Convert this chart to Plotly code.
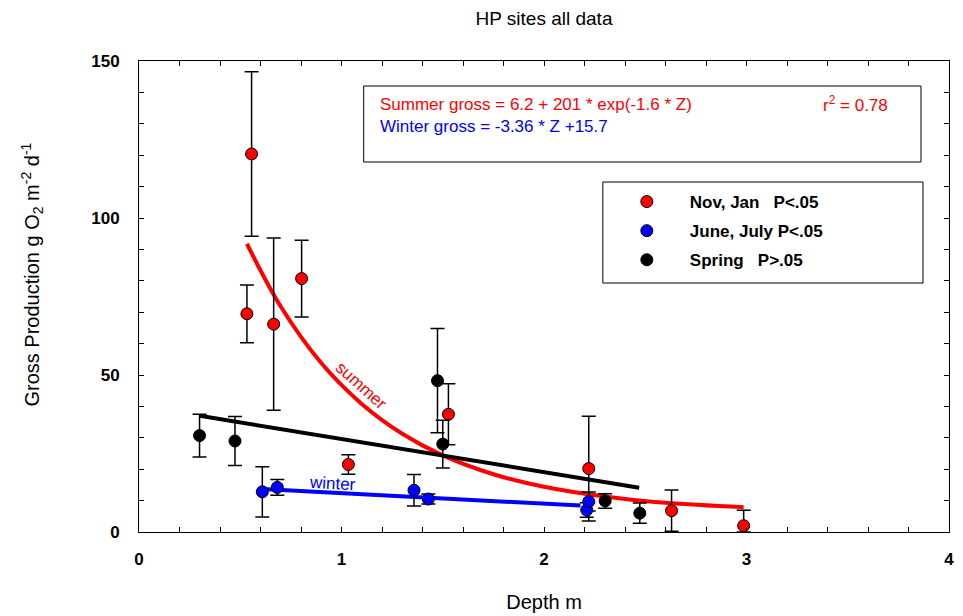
import plotly.graph_objects as go

FONT = "Liberation Sans, Arial, Helvetica, sans-serif"

# Nov, Jan (summer)
red_x = [0.533, 0.556, 0.665, 0.803, 1.034, 1.528, 2.221, 2.630, 2.986]
red_y = [69.5, 120.4, 66.2, 80.7, 21.5, 37.5, 20.2, 6.8, 2.0]
red_err_plus = [9.2, 26.2, 27.4, 12.2, 3.1, 9.7, 16.7, 6.6, 4.9]
red_err_minus = [9.2, 26.2, 27.4, 12.2, 3.1, 9.7, 16.7, 6.6, 2.0]

# June, July (winter)
blue_x = [0.609, 0.683, 1.358, 1.429, 2.211, 2.221]
blue_y = [12.8, 14.2, 13.3, 10.5, 7.0, 9.7]
blue_err = [8.0, 2.5, 5.0, 1.6, 2.3, 3.0]

# Spring
black_x = [0.299, 0.474, 1.474, 1.500, 2.302, 2.473]
black_y = [30.7, 29.0, 48.2, 28.0, 9.9, 6.0]
black_err = [6.8, 7.8, 16.6, 7.6, 2.3, 3.2]

# ---- fitted lines as drawn in the reference ----
summer_fit_x = [0.533, 0.7, 0.9, 1.1, 1.3, 1.5, 1.75, 2.0, 2.3, 2.6, 2.986]
summer_fit_y = [91.8, 71.8, 53.8, 40.8, 31.3, 24.4, 18.4, 14.4, 11.3, 9.3, 7.9]
winter_fit_x = [0.61, 2.18]
winter_fit_y = [13.7, 8.4]
spring_fit_x = [0.30, 2.47]
spring_fit_y = [37.0, 14.1]

legend_names = ["Nov, Jan\u00a0\u00a0\u00a0P<.05", "June, July\u00a0P<.05", "Spring\u00a0\u00a0\u00a0P>.05"]
x_ticks = [0, 1, 2, 3, 4]
y_ticks = [0, 50, 100, 150]

fig = go.Figure()

# fit lines
fig.add_trace(go.Scatter(x=summer_fit_x, y=summer_fit_y, mode="lines", line=dict(color="#ff0000", width=4, shape="spline"),
                         showlegend=False, hoverinfo="skip"))
fig.add_trace(go.Scatter(x=spring_fit_x, y=spring_fit_y, mode="lines", line=dict(color="#000000", width=4),
                         showlegend=False, hoverinfo="skip"))
fig.add_trace(go.Scatter(x=winter_fit_x, y=winter_fit_y, mode="lines", line=dict(color="#0000ff", width=4),
                         showlegend=False, hoverinfo="skip"))

err_style = dict(type="data", color="black", thickness=1.5, width=7, visible=True)

fig.add_trace(go.Scatter(x=red_x, y=red_y, mode="markers", name=legend_names[0], legendgroup="a",
                         marker=dict(color="#ff0000", size=12, line=dict(color="black", width=1)),
                         error_y=dict(array=red_err_plus, arrayminus=red_err_minus, symmetric=False, **err_style),
                         cliponaxis=False))
fig.add_trace(go.Scatter(x=blue_x, y=blue_y, mode="markers", name=legend_names[1], legendgroup="b",
                         marker=dict(color="#0000ff", size=12, line=dict(color="black", width=1)),
                         error_y=dict(array=blue_err, **err_style), cliponaxis=False))
fig.add_trace(go.Scatter(x=black_x, y=black_y, mode="markers", name=legend_names[2], legendgroup="c",
                         marker=dict(color="#000000", size=12, line=dict(color="black", width=1)),
                         error_y=dict(array=black_err, **err_style), cliponaxis=False))

# The page adds an 8px body margin; positions below are page pixels.
# Plot area on the page: left 139.4, right 949, top 61, bottom 532
def px_x(p):
    return (p - 139.4) / 809.6

def px_y(p):
    return (532 - p) / 471.0

shapes = [
    # equation box
    dict(type="rect", xref="paper", yref="paper", x0=px_x(364), x1=px_x(921), y0=px_y(162), y1=px_y(86),
         line=dict(color="black", width=1), fillcolor="rgba(0,0,0,0)"),
    # legend box
    dict(type="rect", xref="paper", yref="paper", x0=px_x(603), x1=px_x(923), y0=px_y(283), y1=px_y(182),
         line=dict(color="black", width=1), fillcolor="rgba(0,0,0,0)"),
]

annotations = [
    dict(text="Summer gross = 6.2 + 201 * exp(-1.6 * Z)", xref="paper", yref="paper", x=px_x(378), y=px_y(104),
         xanchor="left", yanchor="middle", showarrow=False, font=dict(family=FONT, size=17, color="#ff0000")),
    dict(text="r<sup>2</sup> = 0.78", xref="paper", yref="paper", x=px_x(821), y=px_y(104),
         xanchor="left", yanchor="middle", showarrow=False, font=dict(family=FONT, size=17, color="#ff0000")),
    dict(text="Winter gross = -3.36 * Z +15.7", xref="paper", yref="paper", x=px_x(378), y=px_y(127),
         xanchor="left", yanchor="middle", showarrow=False, font=dict(family=FONT, size=17, color="#0000ff")),
    dict(text="summer", x=1.095, y=46.5, xref="x", yref="y", showarrow=False, textangle=42,
         font=dict(family=FONT, size=17, color="#ff0000")),
    dict(text="winter", x=0.957, y=15.6, xref="x", yref="y", showarrow=False, textangle=3,
         font=dict(family=FONT, size=17, color="#0000ff")),
    dict(text="Gross Production g O<sub>2</sub> m<sup>-2</sup> d<sup>-1</sup>", xref="paper", yref="paper",
         x=px_x(32), y=px_y(275), xanchor="center", yanchor="middle", textangle=-90, showarrow=False,
         font=dict(family=FONT, size=20, color="black")),
]

axis_common = dict(showline=True, linecolor="black", linewidth=1, mirror="allticks", ticks="inside", ticklen=5,
                   tickcolor="black", showgrid=False, zeroline=False, automargin=False,
                   tickfont=dict(family=FONT, size=17, color="black", weight="bold"))

fig.update_layout(
    width=955, height=608,
    margin=dict(l=131.4, r=14, t=53, b=84),
    paper_bgcolor="white", plot_bgcolor="white",
    font=dict(family=FONT, color="black"),
    title=dict(text="HP sites all data", x=0.5, xref="paper", xanchor="center", y=1 - 10 / 608, yref="container",
               yanchor="middle", font=dict(family=FONT, size=19, color="black"), automargin=False),
    xaxis=dict(range=[0, 4], tickvals=x_ticks, minor=dict(dtick=0.2, ticks="inside", ticklen=5, tickcolor="black"),
               ticklabelstandoff=12,
               title=dict(text="Depth m", standoff=26, font=dict(family=FONT, size=20, color="black")),
               **axis_common),
    yaxis=dict(range=[0, 150], tickvals=y_ticks, minor=dict(dtick=10, ticks="inside", ticklen=5, tickcolor="black"),
               ticklabelstandoff=15, **axis_common),
    legend=dict(x=px_x(604), y=px_y(184), xanchor="left", yanchor="top", xref="paper", yref="paper",
                bgcolor="rgba(0,0,0,0)", borderwidth=0, traceorder="grouped", tracegroupgap=4, itemwidth=76,
                font=dict(family=FONT, size=17, color="black", weight="bold")),
    shapes=shapes,
    annotations=annotations,
)

fig.write_html("out.html")
